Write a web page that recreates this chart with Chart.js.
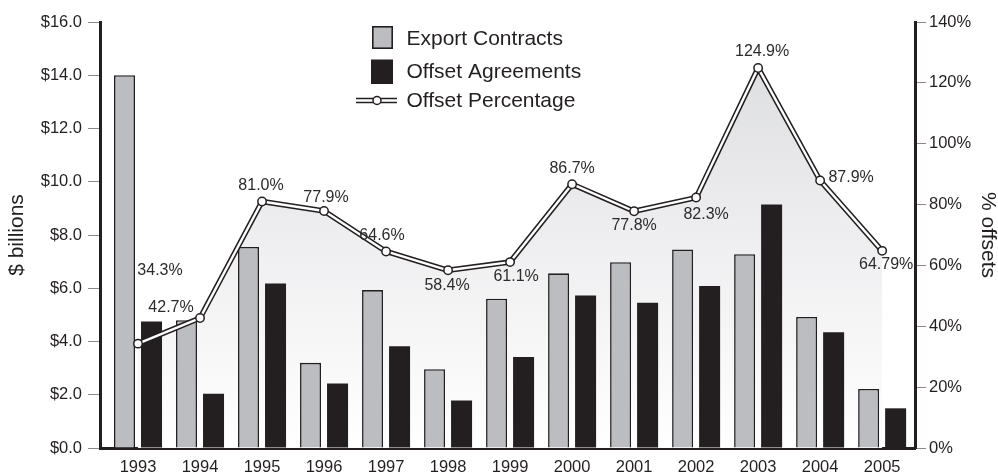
<!DOCTYPE html>
<html>
<head>
<meta charset="utf-8">
<script src="https://cdn.jsdelivr.net/npm/chart.js@4.4.0/dist/chart.umd.min.js"></script>
<style>
html,body{margin:0;padding:0;background:#ffffff;}
canvas{display:block;}
</style>
</head>
<body>
<canvas id="c" width="998" height="474"></canvas>
<script>
// ---- data ----
const years = ['1993','1994','1995','1996','1997','1998','1999','2000','2001','2002','2003','2004','2005'];
const exportContracts = [14.0, 4.8, 7.55, 3.2, 5.93, 2.96, 5.61, 6.56, 6.98, 7.46, 7.28, 4.92, 2.22];
const offsetAgreements = [4.75, 2.04, 6.18, 2.42, 3.82, 1.78, 3.42, 5.73, 5.46, 6.08, 9.15, 4.35, 1.49];
const offsetPercentage = [34.3, 42.7, 81.0, 77.9, 64.6, 58.4, 61.1, 86.7, 77.8, 82.3, 124.9, 87.9, 64.79];
const seriesNames = ['Export Contracts', 'Offset Agreements', 'Offset Percentage'];
const axisTitles = ['$ billions', '% offsets'];

// ---- styles ----
const INK = '#231f20';
const GREY = '#bcbdc0';
const FONT = '"Liberation Sans", Arial, Helvetica, sans-serif';
// label placement relative to each point (text centre offset, px)
const pctLabelOffsets = [[22,-73],[-29,-10],[-1,-16],[2,-13],[-4,-16],[-1,15],[6,15],[0,-16],[0,14],[10,17],[4,-16],[31,-3],[4,14]];

Chart.defaults.font.family = FONT;
Chart.defaults.color = INK;

const toXY = (arr) => arr.map((v, i) => ({x: i, y: v}));
const fmtPct = (v) => (Math.round(v * 10) === v * 10 ? v.toFixed(1) : v.toFixed(2)) + '%';

const fillGradient = (ctx) => {
  const chart = ctx.chart;
  const a = chart.chartArea;
  if (!a) return 'rgba(0,0,0,0)';
  const g = chart.ctx.createLinearGradient(0, a.top, 0, a.bottom);
  g.addColorStop(0, '#dadbde');
  g.addColorStop(0.5, '#eeeef0');
  g.addColorStop(1, '#ffffff');
  return g;
};

const labelPlugin = {
  id: 'pctLabels',
  afterDatasetsDraw(chart) {
    const meta = chart.getDatasetMeta(3);
    const ctx = chart.ctx;
    ctx.save();
    ctx.font = '16px ' + FONT;
    ctx.fillStyle = '#2b2b2b';
    ctx.textAlign = 'center';
    ctx.textBaseline = 'middle';
    meta.data.forEach((pt, i) => {
      const o = pctLabelOffsets[i];
      ctx.fillText(fmtPct(offsetPercentage[i]), pt.x + o[0], pt.y + o[1]);
    });
    ctx.restore();
  }
};

const legendPlugin = {
  id: 'customLegend',
  afterDraw(chart) {
    const ctx = chart.ctx;
    const x0 = 356, textX = 406.5;
    ctx.save();
    // Export Contracts box
    ctx.fillStyle = GREY;
    ctx.fillRect(372, 26, 21, 23);
    ctx.strokeStyle = INK;
    ctx.lineWidth = 1.6;
    ctx.strokeRect(372.8, 26.8, 19.4, 21.4);
    // Offset Agreements box
    ctx.fillStyle = INK;
    ctx.fillRect(371, 59.5, 22, 24.5);
    // Offset Percentage line symbol
    const ly = 100.5;
    ctx.lineCap = 'butt';
    ctx.strokeStyle = INK;
    ctx.lineWidth = 5.5;
    ctx.beginPath(); ctx.moveTo(x0, ly); ctx.lineTo(x0 + 41, ly); ctx.stroke();
    ctx.strokeStyle = '#ffffff';
    ctx.lineWidth = 2.4;
    ctx.beginPath(); ctx.moveTo(x0, ly); ctx.lineTo(x0 + 41, ly); ctx.stroke();
    ctx.beginPath(); ctx.arc(377, ly, 4, 0, Math.PI * 2);
    ctx.fillStyle = '#ffffff'; ctx.fill();
    ctx.strokeStyle = INK; ctx.lineWidth = 1.5; ctx.stroke();
    // texts
    ctx.font = '21px ' + FONT;
    ctx.fillStyle = INK;
    ctx.textAlign = 'left';
    ctx.textBaseline = 'middle';
    ctx.fillText(seriesNames[0], textX, 39);
    ctx.fillText(seriesNames[1], textX, 72);
    ctx.fillText(seriesNames[2], textX, 101);
    ctx.restore();
  }
};

new Chart(document.getElementById('c'), {
  type: 'bar',
  data: {
    datasets: [
      {
        type: 'bar', label: seriesNames[0], data: toXY(exportContracts), yAxisID: 'y',
        backgroundColor: GREY, borderColor: INK, borderWidth: 1.6, borderSkipped: 'start',
        categoryPercentage: 0.871, barPercentage: 0.778, order: 3
      },
      {
        type: 'bar', label: seriesNames[1], data: toXY(offsetAgreements), yAxisID: 'y',
        backgroundColor: INK, borderColor: INK, borderWidth: 0,
        categoryPercentage: 0.871, barPercentage: 0.778, order: 3
      },
      {
        type: 'line', label: seriesNames[2] + ' outline', data: toXY(offsetPercentage), yAxisID: 'y1',
        borderColor: INK, borderWidth: 5.5, pointRadius: 0, tension: 0,
        borderJoinStyle: 'round', fill: 'origin', backgroundColor: fillGradient, order: 1
      },
      {
        type: 'line', label: seriesNames[2], data: toXY(offsetPercentage), yAxisID: 'y1',
        borderColor: '#ffffff', borderWidth: 2.4, tension: 0, borderJoinStyle: 'round',
        pointRadius: 4.2, pointBackgroundColor: '#ffffff', pointBorderColor: INK, pointBorderWidth: 1.5,
        fill: false, order: 0
      }
    ]
  },
  options: {
    responsive: false,
    animation: false,
    devicePixelRatio: 1,
    layout: { padding: { top: 22, left: 0, right: 0, bottom: 0 } },
    plugins: {
      legend: { display: false },
      tooltip: { enabled: false },
      filler: { drawTime: 'beforeDatasetsDraw' }
    },
    scales: {
      x: {
        type: 'linear', min: -0.613, max: 12.53, offset: false,
        grid: { display: false, drawTicks: false },
        border: { display: true, color: INK, width: 3 },
        ticks: {
          stepSize: 1, includeBounds: false, autoSkip: false, maxRotation: 0, minRotation: 0,
          padding: 10, color: INK, font: { size: 16.5 },
          callback: (v) => Number.isInteger(v) ? years[v] : ''
        },
        afterFit: (s) => { s.height = 26; }
      },
      y: {
        position: 'left', min: 0, max: 16,
        grid: { drawOnChartArea: false, color: '#8a8a8a', lineWidth: 1, tickLength: 12 },
        border: { display: true, color: INK, width: 3 },
        ticks: { stepSize: 2, padding: 6, color: INK, font: { size: 16.5 }, callback: (v) => '$' + v.toFixed(1) },
        title: { display: true, text: axisTitles[0], color: INK, font: { size: 21, lineHeight: 1 }, padding: { top: 7, bottom: 0 } },
        afterFit: (s) => { s.width = 100; }
      },
      y1: {
        position: 'right', min: 0, max: 140,
        grid: { drawOnChartArea: false, color: '#8a8a8a', lineWidth: 1, tickLength: 11 },
        border: { display: true, color: INK, width: 3 },
        ticks: { stepSize: 20, padding: 3, color: INK, font: { size: 16.5 }, callback: (v) => v + '%' },
        title: { display: true, text: axisTitles[1], color: INK, font: { size: 21, lineHeight: 1 }, padding: { top: 0, bottom: 0 } },
        afterFit: (s) => { s.width = 83; }
      }
    }
  },
  plugins: [labelPlugin, legendPlugin]
});
</script>
</body>
</html>
